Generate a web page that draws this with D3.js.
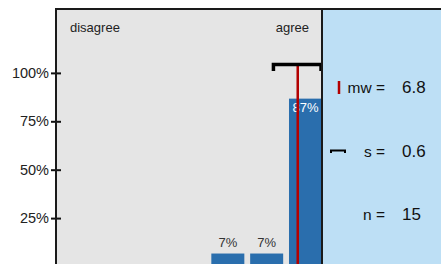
<!DOCTYPE html>
<html lang="en">
<head>
<meta charset="UTF-8">
<title>Agreement distribution</title>
<script src="https://d3js.org/d3.v7.min.js"></script>
<style>
  body { margin: 0; padding: 0; background: #fff; }
  svg { display: block; font-family: "Liberation Sans", Arial, sans-serif; }
</style>
</head>
<body>
<svg width="441" height="264"></svg>
<script>
// scale points 1..7 and share of answers (%)
const categories = [1, 2, 3, 4, 5, 6, 7];
const shares = [0, 0, 0, 0, 6.7, 6.7, 86.7];
const poles = ["disagree", "agree"];
const yTicks = [25, 50, 75, 100];

// summary stats
const statLabels = ["mw =", "s =", "n ="];
const statValues = ["6.8", "0.6", "15"];
const mean = 6.8;
const sd = 0.6;

const width = 441, height = 264;
const panelL = 56, panelR = 322, panelT = 9, base = 266.5;

const svg = d3.select("svg");

// panel backgrounds
svg.append("rect").attr("x", panelL).attr("y", panelT)
  .attr("width", panelR - panelL).attr("height", height - panelT)
  .attr("fill", "#e5e5e5");
svg.append("rect").attr("x", panelR).attr("y", panelT)
  .attr("width", width - panelR).attr("height", height - panelT)
  .attr("fill", "#bddff5");

const x = d3.scaleBand().domain(categories).range([panelL, panelR])
  .paddingInner(0.15).paddingOuter(0);
const y = d3.scaleLinear().domain([0, 133]).range([base, panelT]);

// mean / sd position on the 1..7 scale, through band centres
const xm = d3.scaleLinear().domain([1, 7])
  .range([x(1) + x.bandwidth() / 2, x(7) + x.bandwidth() / 2]);

const barData = categories.map((c, i) => ({ c, v: shares[i] })).filter(d => d.v > 0);

// bars
svg.selectAll("rect.bar")
  .data(barData)
  .join("rect")
  .attr("class", "bar")
  .attr("x", d => x(d.c))
  .attr("y", d => y(d.v))
  .attr("width", x.bandwidth())
  .attr("height", d => base - y(d.v))
  .attr("fill", "#2a6ead");

// bar labels: inside if tall bar, above otherwise
svg.selectAll("text.lab")
  .data(barData)
  .join("text")
  .attr("class", "lab")
  .attr("x", d => x(d.c) + x.bandwidth() / 2)
  .attr("y", d => d.v > 50 ? y(d.v) + 13.5 : y(d.v) - 6.5)
  .attr("text-anchor", "middle")
  .attr("font-size", 13)
  .attr("fill", d => d.v > 50 ? "#fff" : "#333")
  .text(d => Math.round(d.v) + "%");

// mean line
svg.append("line")
  .attr("x1", xm(mean)).attr("x2", xm(mean))
  .attr("y1", 65).attr("y2", height)
  .attr("stroke", "#b30000").attr("stroke-width", 2.5);

// sd bracket
svg.append("path")
  .attr("d", `M${xm(mean - sd) - 1},71 V64.5 H${xm(mean + sd)} V71`)
  .attr("fill", "none").attr("stroke", "#000").attr("stroke-width", 3.5);

// pole labels
svg.append("text").attr("x", 70).attr("y", 32).attr("font-size", 13)
  .attr("fill", "#222").text(poles[0]);
svg.append("text").attr("x", 309).attr("y", 32).attr("font-size", 13)
  .attr("text-anchor", "end").attr("fill", "#222").text(poles[1]);

// y axis
const yAxis = d3.axisLeft(y).tickValues(yTicks)
  .tickFormat(d => d + "%").tickSize(5).tickPadding(3);
const ga = svg.append("g").attr("transform", `translate(${panelL},0)`).call(yAxis);
ga.select(".domain").remove();
ga.selectAll(".tick line").attr("x2", 5).attr("x1", -5)
  .attr("stroke", "#111").attr("stroke-width", 2);
ga.selectAll(".tick text").attr("font-size", 14.5).attr("fill", "#222")
  .attr("font-family", "Liberation Sans, Arial, sans-serif").attr("x", -7);

// frame lines
svg.append("line").attr("x1", panelL).attr("x2", width).attr("y1", panelT).attr("y2", panelT)
  .attr("stroke", "#1a1a1a").attr("stroke-width", 2);
svg.append("line").attr("x1", panelL).attr("x2", panelL).attr("y1", panelT - 1).attr("y2", height)
  .attr("stroke", "#1a1a1a").attr("stroke-width", 2);
svg.append("line").attr("x1", panelR).attr("x2", panelR).attr("y1", panelT - 1).attr("y2", height)
  .attr("stroke", "#1a1a1a").attr("stroke-width", 2);

// legend
const rowsY = [92.5, 156.5, 220];
svg.append("line").attr("x1", 339).attr("x2", 339).attr("y1", 81).attr("y2", 94)
  .attr("stroke", "#b30000").attr("stroke-width", 2.5);
svg.append("path").attr("d", "M331,153 V150.5 H345 V153")
  .attr("fill", "none").attr("stroke", "#000").attr("stroke-width", 2);

svg.selectAll("text.slab").data(statLabels).join("text")
  .attr("class", "slab")
  .attr("x", 385).attr("y", (d, i) => rowsY[i])
  .attr("text-anchor", "end").attr("font-size", 15.5).attr("fill", "#111")
  .text(d => d);
svg.selectAll("text.sval").data(statValues).join("text")
  .attr("class", "sval")
  .attr("x", 402).attr("y", (d, i) => rowsY[i])
  .attr("font-size", 17).attr("fill", "#111")
  .text(d => d);
</script>
</body>
</html>
